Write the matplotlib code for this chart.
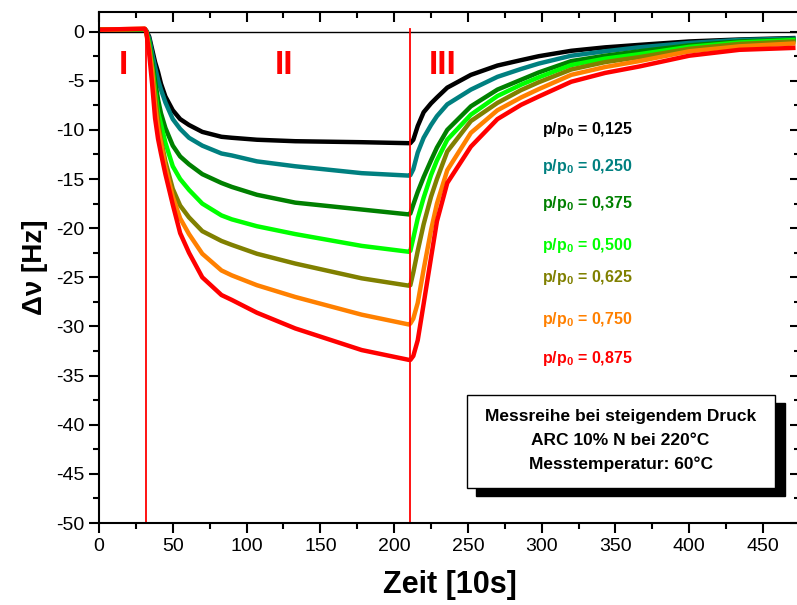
import numpy as np
import matplotlib
matplotlib.use('Agg')
import matplotlib.pyplot as plt
from matplotlib.patches import Rectangle
from matplotlib.ticker import MultipleLocator

plt.rcParams['font.family'] = ['Liberation Sans', 'DejaVu Sans']
plt.rcParams['mathtext.fontset'] = 'custom'
plt.rcParams['mathtext.rm'] = 'Liberation Sans'
plt.rcParams['mathtext.bf'] = 'Liberation Sans:bold'
plt.rcParams['axes.unicode_minus'] = False

# time axis (units of 10 s)
t = [0, 31, 32, 34, 36, 38, 40, 42, 45, 50, 55, 61, 70, 83, 90, 107, 133, 178, 210, 211,
     213, 216, 220, 225, 229, 236, 252, 270, 286, 298, 320, 343, 366, 400, 434, 472]

dv_125 = [0.2, 0.25, 0.1, -0.5, -1.8, -3.1, -4.1, -5.3, -6.6, -8.0,
          -8.9, -9.5, -10.2, -10.7, -10.8, -11.0, -11.15, -11.25, -11.35, -11.35,
          -11.0, -9.6, -8.2, -7.3, -6.7, -5.7, -4.4, -3.45, -2.9, -2.5,
          -1.95, -1.6, -1.35, -1.0, -0.8, -0.65]
dv_250 = [0.2, 0.25, 0.1, -0.7, -2.2, -3.6, -4.9, -5.9, -7.2, -8.9,
          -9.9, -10.8, -11.6, -12.4, -12.6, -13.2, -13.7, -14.4, -14.65, -14.6,
          -14.0, -12.3, -10.8, -9.5, -8.6, -7.4, -5.9, -4.6, -3.8, -3.25,
          -2.45, -2.0, -1.6, -1.15, -0.85, -0.7]
dv_375 = [0.2, 0.25, 0.0, -1.0, -3.0, -5.0, -6.9, -8.3, -9.8, -11.6,
          -12.7, -13.5, -14.5, -15.4, -15.8, -16.6, -17.4, -18.1, -18.6, -18.5,
          -17.6, -16.3, -14.8, -13.1, -11.8, -10.0, -7.6, -5.9, -4.9, -4.15,
          -3.0, -2.45, -2.0, -1.4, -1.0, -0.8]
dv_500 = [0.2, 0.25, 0.0, -1.2, -3.5, -6.0, -8.2, -9.4, -11.3, -13.7,
          -15.0, -16.1, -17.5, -18.7, -19.1, -19.8, -20.6, -21.8, -22.4, -22.3,
          -21.0, -19.0, -16.9, -14.6, -13.1, -11.0, -8.45, -6.55, -5.4, -4.65,
          -3.4, -2.75, -2.3, -1.55, -1.1, -0.85]
dv_625 = [0.2, 0.25, 0.0, -1.5, -3.8, -6.5, -9.0, -11.0, -13.2, -16.0,
          -17.7, -18.9, -20.3, -21.3, -21.7, -22.6, -23.6, -25.1, -25.85, -25.8,
          -24.5, -22.3, -19.6, -16.8, -15.0, -12.2, -9.1, -7.25, -5.95, -5.15,
          -3.85, -3.1, -2.6, -1.75, -1.25, -1.0]
dv_750 = [0.2, 0.3, 0.0, -1.8, -4.0, -7.5, -9.8, -11.3, -13.8, -16.8,
          -19.0, -20.6, -22.6, -24.3, -24.8, -25.8, -27.0, -28.8, -29.8, -29.7,
          -29.2, -27.6, -24.2, -20.2, -17.5, -14.1, -10.3, -8.0, -6.7, -5.85,
          -4.4, -3.6, -3.0, -2.0, -1.5, -1.2]
dv_875 = [0.2, 0.3, 0.0, -2.2, -5.3, -8.8, -10.9, -12.4, -14.5, -17.6,
          -20.5, -22.5, -25.0, -26.8, -27.3, -28.6, -30.2, -32.4, -33.4, -33.4,
          -33.0, -31.4, -27.7, -23.0, -19.3, -15.4, -11.7, -8.9, -7.45, -6.6,
          -5.1, -4.2, -3.55, -2.45, -1.85, -1.65]

series = [dv_125, dv_250, dv_375, dv_500, dv_625, dv_750, dv_875]
labels = ['0,125', '0,250', '0,375', '0,500', '0,625', '0,750', '0,875']
colors = ['#000000', '#008080', '#008000', '#00ff00', '#808000', '#ff8000', '#ff0000']
label_y = [-10.0, -13.75, -17.5, -21.8, -25.05, -29.3, -33.3]

phase_x = [32, 211]
phase_names = ['I', 'II', 'III']
phase_pos = [16.3, 125.3, 233]

fig = plt.figure(figsize=(7.97, 6.05), dpi=100)
ax = fig.add_axes([0.1242, 0.1355, 0.8795, 0.8447])

for y, c in zip(series, colors):
    ax.plot(t, y, color=c, lw=3.2, solid_capstyle='butt')

ax.axhline(0, color='k', lw=1.0, zorder=1)
for xv in phase_x:
    ax.plot([xv, xv], [-50, 0.3], color='#ff0000', lw=1.3)

for name, xp in zip(phase_names, phase_pos):
    ax.text(xp, -3.4, name, color='#ff0000', fontsize=24, fontweight='bold',
            ha='center', va='center')

for lab, c, yl in zip(labels, colors, label_y):
    ax.text(331, yl, r'p/p$_\mathbf{0}$ = ' + lab, color=c, fontsize=11.5,
            fontweight='bold', ha='center', va='center')

# info box with drop shadow
ax.add_patch(Rectangle((0.538, 0.052), 0.44, 0.182, transform=ax.transAxes,
                       facecolor='k', edgecolor='k', zorder=5))
ax.add_patch(Rectangle((0.5245, 0.0685), 0.44, 0.182, transform=ax.transAxes,
                       facecolor='white', edgecolor='k', lw=1.0, zorder=6))
box_lines = ['Messreihe bei steigendem Druck', 'ARC 10% N bei 220°C', 'Messtemperatur: 60°C']
for i, s in enumerate(box_lines):
    ax.text(0.744, 0.2094 - i * 0.0475, s, transform=ax.transAxes, fontsize=12.5,
            fontweight='bold', ha='center', va='center', zorder=7)

ax.set_xlim(0, 475)
ax.set_ylim(-50, 2)
ax.xaxis.set_major_locator(MultipleLocator(50))
ax.xaxis.set_minor_locator(MultipleLocator(25))
ax.yaxis.set_major_locator(MultipleLocator(5))
ax.yaxis.set_minor_locator(MultipleLocator(2.5))
ax.set_yticks(np.arange(-50, 1, 5))
ax.tick_params(which='both', direction='out', width=1.5, labelsize=14)
ax.tick_params(which='major', length=7)
ax.tick_params(which='minor', length=4)
ax.tick_params(axis='x', which='both', top=True, labeltop=False)
ax.tick_params(axis='y', which='both', right=True, labelright=False)
# top/right ticks point inward
for tk in ax.xaxis.get_major_ticks() + ax.xaxis.get_minor_ticks():
    tk.tick2line.set_marker(3)
for tk in ax.yaxis.get_major_ticks() + ax.yaxis.get_minor_ticks():
    tk.tick2line.set_marker(0)
for sp in ax.spines.values():
    sp.set_linewidth(1.5)

ax.set_xlabel('Zeit [10s]', fontsize=22, fontweight='bold', labelpad=11)
ax.set_ylabel('Δν [Hz]', fontsize=20, fontweight='bold', labelpad=6)

plt.savefig('out.png', dpi=100)
